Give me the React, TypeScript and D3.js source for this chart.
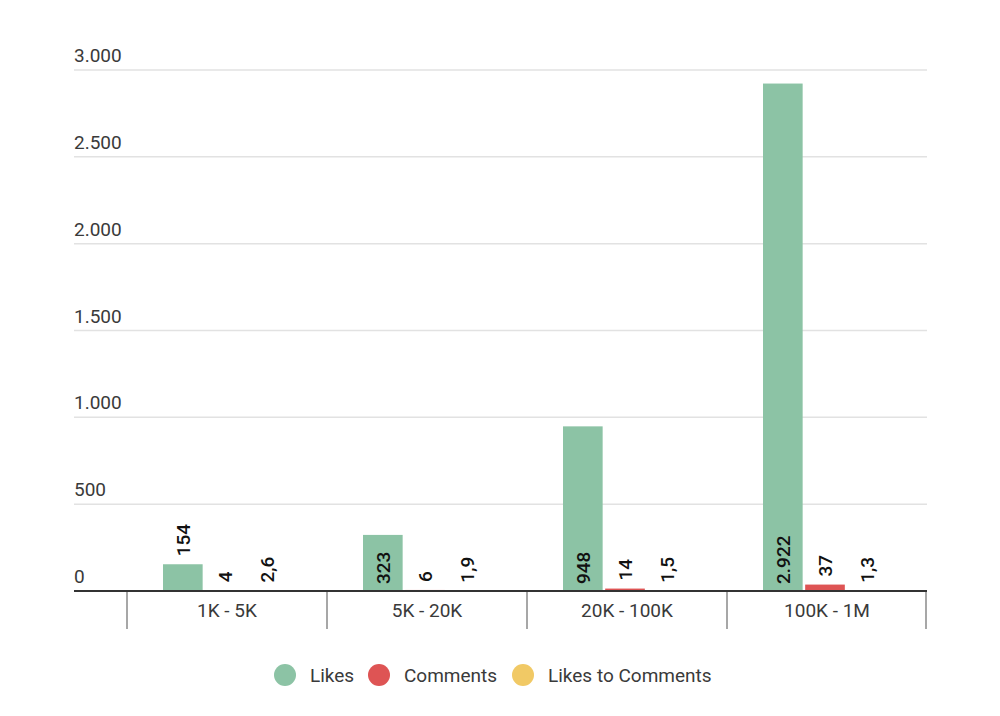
import * as d3 from "d3";
import { useEffect, useRef } from "react";

const categories = ["1K - 5K", "5K - 20K", "20K - 100K", "100K - 1M"];
const seriesNames = ["Likes", "Comments", "Likes to Comments"];
const likes = [154, 323, 948, 2922];
const comments = [4, 6, 14, 37];
const likesToComments = [2.6, 1.9, 1.5, 1.3];
const yTicks = [0, 500, 1000, 1500, 2000, 2500, 3000];

const colors = ["#8cc3a5", "#de5454", "#f1c965"];

const locale = d3.formatLocale({
  decimal: ",",
  thousands: ".",
  grouping: [3],
  currency: ["", "€"],
});
const fmtInt = locale.format(",d");
const fmtVal = (v: number) => (Number.isInteger(v) ? fmtInt(v) : locale.format(",.1f")(v));

const App = () => {
  const svgRef = useRef<SVGSVGElement | null>(null);

  useEffect(() => {
    const svg = d3.select(svgRef.current);
    svg.selectAll("*").remove();

    const font = "Roboto, sans-serif";
    const gridLeft = 74;
    const gridRight = 927;

    const y = d3.scaleLinear().domain([0, 3000]).range([591, 70]);
    const x = d3.scaleBand().domain(categories).range([127, 927]).padding(0);
    const xs = d3.scaleBand().domain(seriesNames).range([36, 160]).paddingInner(0.06);

    // gridlines + tick labels
    const grid = svg.append("g");
    yTicks.forEach((t) => {
      if (t !== 0) {
        grid
          .append("line")
          .attr("x1", gridLeft)
          .attr("x2", gridRight)
          .attr("y1", y(t))
          .attr("y2", y(t))
          .attr("stroke", "#e2e2e2")
          .attr("stroke-width", 1.5);
      }
      grid
        .append("text")
        .attr("x", gridLeft)
        .attr("y", y(t) - 8)
        .attr("font-family", font)
        .attr("font-size", 19)
        .attr("fill", "#3a3a3a")
        .text(fmtInt(t));
    });

    const data = [likes, comments, likesToComments];

    // bars + value labels
    const bars = svg.append("g");
    categories.forEach((c, i) => {
      seriesNames.forEach((s, j) => {
        const v = data[j][i];
        const bx = (x(c) ?? 0) + (xs(s) ?? 0);
        const bw = xs.bandwidth();
        bars
          .append("rect")
          .attr("x", bx)
          .attr("y", y(v))
          .attr("width", bw)
          .attr("height", y(0) - y(v))
          .attr("fill", colors[j]);

        const label = fmtVal(v);
        const textLen = label.length * 10.5;
        const barH = y(0) - y(v);
        const inside = barH > textLen + 14;
        const ty = inside ? y(0) - 7 : y(v) - 8;
        bars
          .append("text")
          .attr("transform", `translate(${bx + bw / 2},${ty}) rotate(-90)`)
          .attr("dy", "0.36em")
          .attr("text-anchor", "start")
          .attr("font-family", font)
          .attr("font-size", 19)
          .attr("font-weight", 500)
          .attr("fill", "#111")
          .text(label);
      });
    });

    // x axis
    const axis = svg.append("g");
    axis
      .append("line")
      .attr("x1", gridLeft)
      .attr("x2", gridRight)
      .attr("y1", y(0))
      .attr("y2", y(0))
      .attr("stroke", "#333")
      .attr("stroke-width", 2);
    const boundaries = categories.map((c) => x(c) ?? 0).concat([x.range()[1] - 1]);
    boundaries.forEach((bx) => {
      axis
        .append("line")
        .attr("x1", bx)
        .attr("x2", bx)
        .attr("y1", y(0) + 1)
        .attr("y2", 629)
        .attr("stroke", "#8a8a8a")
        .attr("stroke-width", 1.5);
    });
    categories.forEach((c) => {
      axis
        .append("text")
        .attr("x", (x(c) ?? 0) + x.bandwidth() / 2)
        .attr("y", 617)
        .attr("text-anchor", "middle")
        .attr("font-family", font)
        .attr("font-size", 19)
        .attr("fill", "#3a3a3a")
        .text(c);
    });

    // legend
    const legendX = [285, 379, 523];
    const legend = svg.append("g");
    seriesNames.forEach((s, j) => {
      legend
        .append("circle")
        .attr("cx", legendX[j])
        .attr("cy", 675)
        .attr("r", 11)
        .attr("fill", colors[j]);
      legend
        .append("text")
        .attr("x", legendX[j] + 25)
        .attr("y", 675)
        .attr("dy", "0.35em")
        .attr("font-family", font)
        .attr("font-size", 19)
        .attr("fill", "#3a3a3a")
        .text(s);
    });
  }, []);

  return (
    <div style={{ margin: -8 }}>
      <svg ref={svgRef} width={1000} height={716} style={{ display: "block", background: "#fff" }}></svg>
    </div>
  );
};

export default App;
